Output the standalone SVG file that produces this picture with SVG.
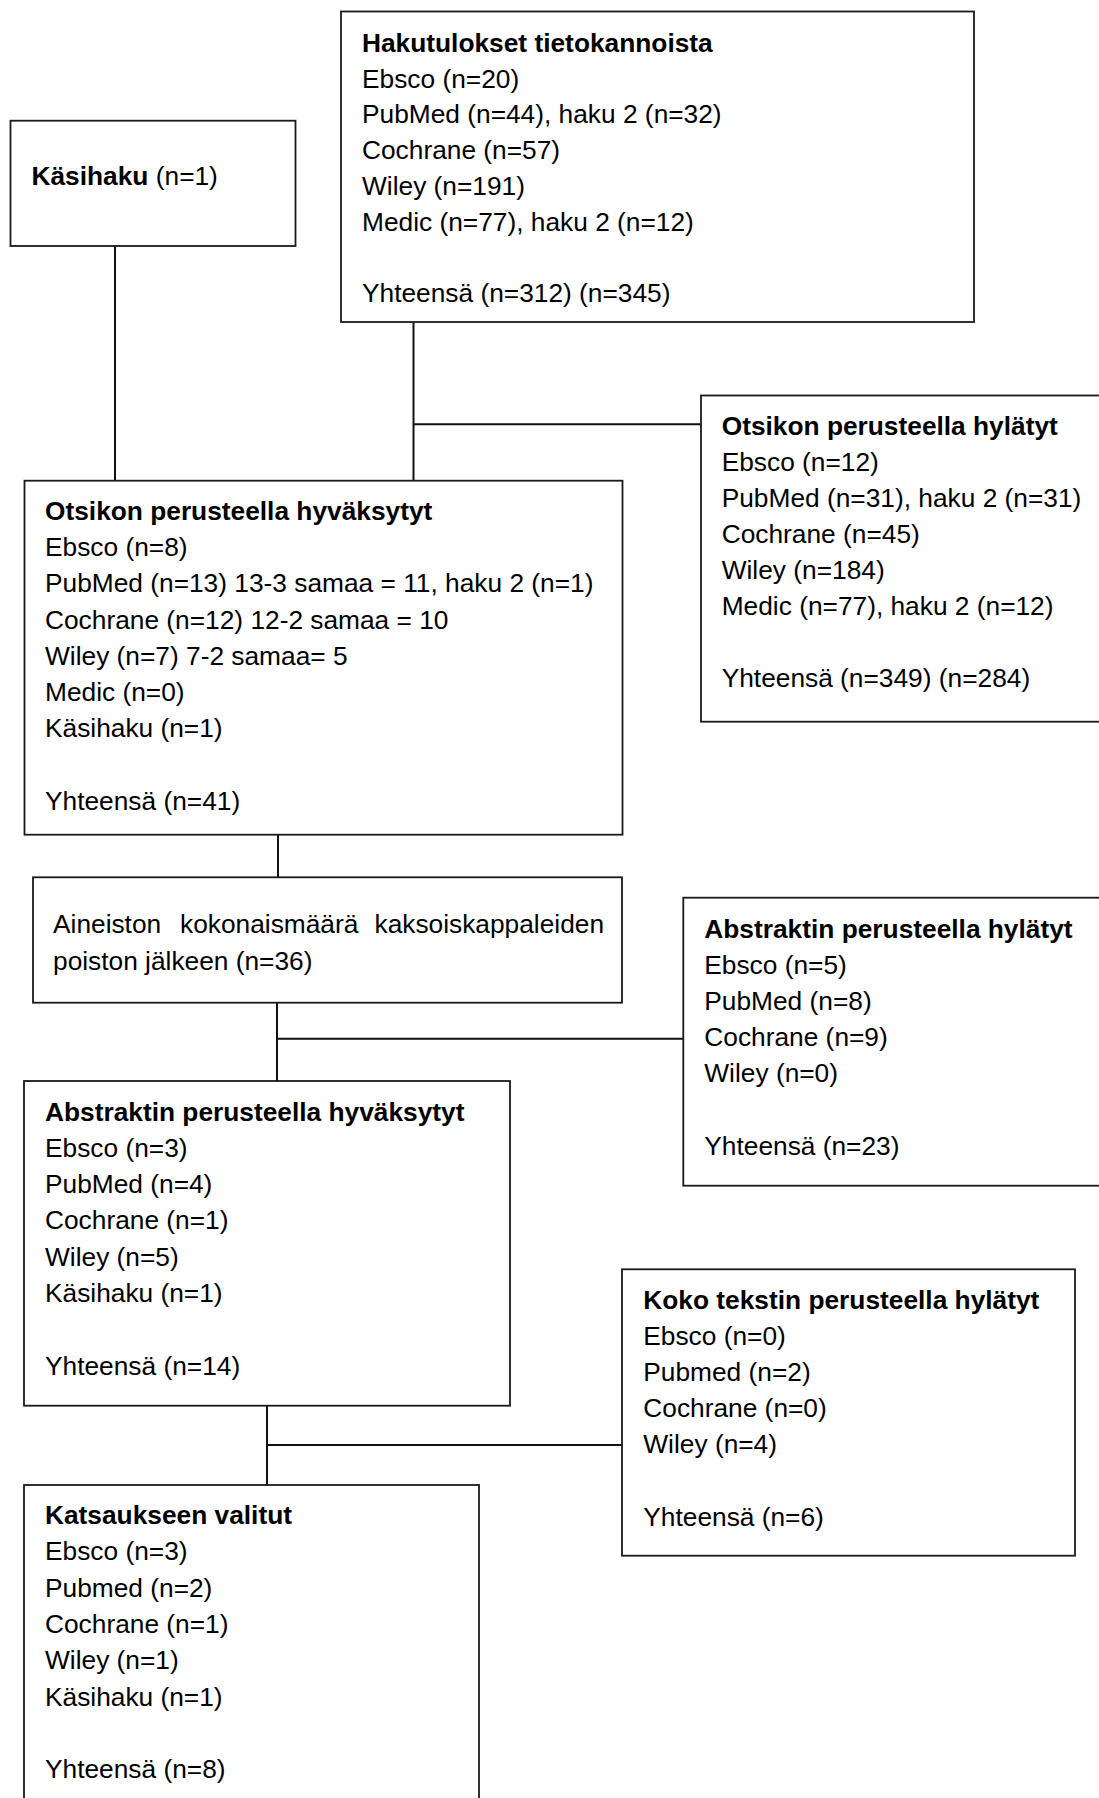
<svg xmlns="http://www.w3.org/2000/svg" width="1099" height="1798" viewBox="0 0 1099 1798">
<style>
  .box { fill: #ffffff; stroke: #1a1a1a; stroke-width: 1.8; }
  .conn { stroke: #111111; stroke-width: 2; fill: none; }
  text { font-family: "Liberation Sans", Arial, sans-serif; font-size: 26.3px; fill: #000000; }
  .b { font-weight: bold; }
</style>
<rect x="0" y="0" width="1099" height="1798" fill="#ffffff"/>

<g id="connectors">
  <line class="conn" x1="115" y1="246" x2="115" y2="481"/>
  <line class="conn" x1="413.5" y1="322" x2="413.5" y2="481"/>
  <line class="conn" x1="413.5" y1="424.3" x2="701" y2="424.3"/>
  <line class="conn" x1="278" y1="834.7" x2="278" y2="877.3"/>
  <line class="conn" x1="277" y1="1002.7" x2="277" y2="1081"/>
  <line class="conn" x1="277" y1="1038.7" x2="683.3" y2="1038.7"/>
  <line class="conn" x1="267" y1="1405.7" x2="267" y2="1485"/>
  <line class="conn" x1="267" y1="1445" x2="622" y2="1445"/>
</g>

<g id="kasihaku">
  <rect class="box" x="10.5" y="120.7" width="285" height="125.3"/>
  <text x="31.5" y="185"><tspan class="b">Käsihaku</tspan> (n=1)</text>
</g>

<g id="hakutulokset">
  <rect class="box" x="341" y="11.5" width="633" height="310.5"/>
  <text x="362" y="51.7" class="b">Hakutulokset tietokannoista</text>
  <text x="362" y="87.5">Ebsco (n=20)</text>
  <text x="362" y="123.3">PubMed (n=44), haku 2 (n=32)</text>
  <text x="362" y="159">Cochrane (n=57)</text>
  <text x="362" y="194.7">Wiley (n=191)</text>
  <text x="362" y="230.5">Medic (n=77), haku 2 (n=12)</text>
  <text x="362" y="302">Yhteensä (n=312) (n=345)</text>
</g>

<g id="otsikon-hylatyt">
  <rect class="box" x="701" y="395.5" width="410" height="326.2"/>
  <text x="721.7" y="435" class="b">Otsikon perusteella hylätyt</text>
  <text x="721.7" y="471">Ebsco (n=12)</text>
  <text x="721.7" y="507">PubMed (n=31), haku 2 (n=31)</text>
  <text x="721.7" y="543">Cochrane (n=45)</text>
  <text x="721.7" y="579">Wiley (n=184)</text>
  <text x="721.7" y="615">Medic (n=77), haku 2 (n=12)</text>
  <text x="721.7" y="686.5">Yhteensä (n=349) (n=284)</text>
</g>

<g id="otsikon-hyvaksytyt">
  <rect class="box" x="24.5" y="480.7" width="598" height="354"/>
  <text x="45" y="520" class="b">Otsikon perusteella hyväksytyt</text>
  <text x="45" y="556.2">Ebsco (n=8)</text>
  <text x="45" y="592.4">PubMed (n=13) 13-3 samaa = 11, haku 2 (n=1)</text>
  <text x="45" y="628.6">Cochrane (n=12) 12-2 samaa = 10</text>
  <text x="45" y="664.8">Wiley (n=7) 7-2 samaa= 5</text>
  <text x="45" y="701">Medic (n=0)</text>
  <text x="45" y="737.2">Käsihaku (n=1)</text>
  <text x="45" y="809.6">Yhteensä (n=41)</text>
</g>

<g id="aineiston-kokonaismaara">
  <rect class="box" x="33" y="877.3" width="589" height="125.4"/>
  <text y="932.7"><tspan x="53">Aineiston</tspan><tspan x="180">kokonaismäärä</tspan><tspan x="374.5">kaksoiskappaleiden</tspan></text>
  <text x="53" y="970">poiston jälkeen (n=36)</text>
</g>

<g id="abstraktin-hylatyt">
  <rect class="box" x="683.3" y="897.7" width="430" height="288"/>
  <text x="704.3" y="938.3" class="b">Abstraktin perusteella hylätyt</text>
  <text x="704.3" y="974.3">Ebsco (n=5)</text>
  <text x="704.3" y="1010.3">PubMed (n=8)</text>
  <text x="704.3" y="1046.3">Cochrane (n=9)</text>
  <text x="704.3" y="1082.3">Wiley (n=0)</text>
  <text x="704.3" y="1154.5">Yhteensä (n=23)</text>
</g>

<g id="abstraktin-hyvaksytyt">
  <rect class="box" x="24" y="1081" width="486" height="324.7"/>
  <text x="45" y="1120.7" class="b">Abstraktin perusteella hyväksytyt</text>
  <text x="45" y="1156.9">Ebsco (n=3)</text>
  <text x="45" y="1193.1">PubMed (n=4)</text>
  <text x="45" y="1229.3">Cochrane (n=1)</text>
  <text x="45" y="1265.5">Wiley (n=5)</text>
  <text x="45" y="1301.7">Käsihaku (n=1)</text>
  <text x="45" y="1374.5">Yhteensä (n=14)</text>
</g>

<g id="koko-tekstin-hylatyt">
  <rect class="box" x="622" y="1269.3" width="453" height="286.4"/>
  <text x="643.3" y="1309" class="b">Koko tekstin perusteella hylätyt</text>
  <text x="643.3" y="1345">Ebsco (n=0)</text>
  <text x="643.3" y="1381">Pubmed (n=2)</text>
  <text x="643.3" y="1417">Cochrane (n=0)</text>
  <text x="643.3" y="1453">Wiley (n=4)</text>
  <text x="643.3" y="1525.5">Yhteensä (n=6)</text>
</g>

<g id="katsaukseen-valitut">
  <rect class="box" x="24" y="1485" width="455" height="340"/>
  <text x="45" y="1524" class="b">Katsaukseen valitut</text>
  <text x="45" y="1560.3">Ebsco (n=3)</text>
  <text x="45" y="1596.6">Pubmed (n=2)</text>
  <text x="45" y="1632.9">Cochrane (n=1)</text>
  <text x="45" y="1669.2">Wiley (n=1)</text>
  <text x="45" y="1705.5">Käsihaku (n=1)</text>
  <text x="45" y="1778">Yhteensä (n=8)</text>
</g>
</svg>
